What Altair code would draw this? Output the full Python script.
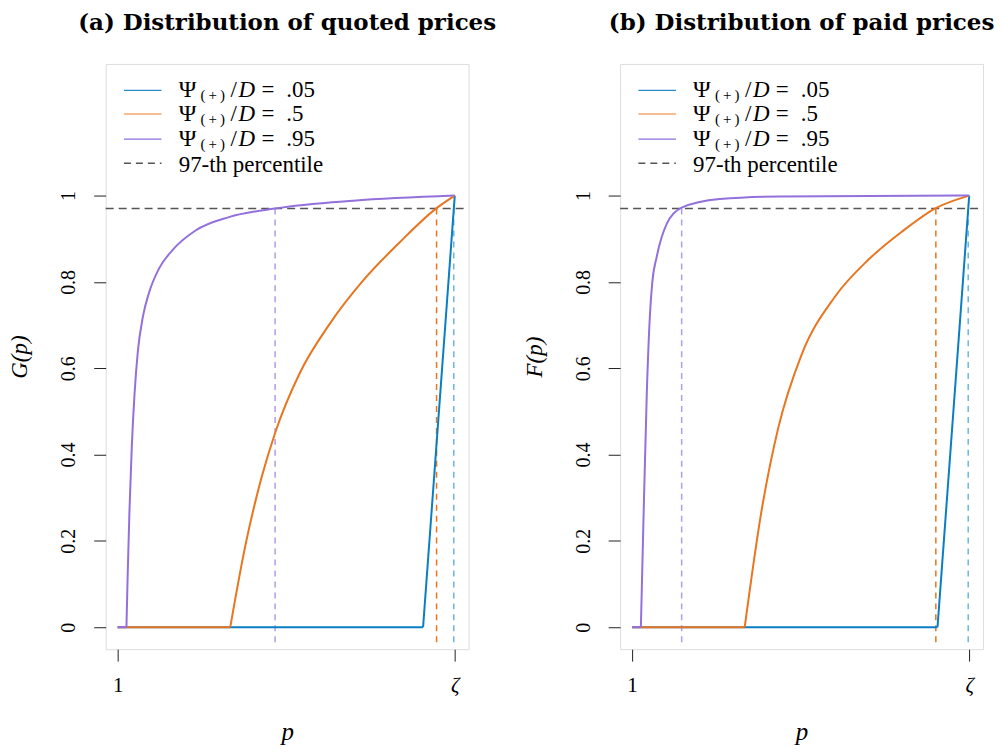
import altair as alt
import pandas as pd

FONT = "Liberation Serif"
TFONT = "DejaVu Serif"
ZETA = 2.0
PCT = 0.97

# ---- panel (a): quoted prices G(p) ----
a_purple_p = [1.0, 1.026, 1.030, 1.035, 1.042, 1.050, 1.060, 1.075, 1.093, 1.122, 1.162, 1.231, 1.330, 1.467, 1.699, 2.0]
a_purple_g = [0.0, 0.0, 0.13, 0.27, 0.42, 0.54, 0.64, 0.72, 0.775, 0.83, 0.873, 0.919, 0.950, 0.970, 0.988, 1.0]
a_orange_p = [1.0, 1.334, 1.379, 1.428, 1.467, 1.541, 1.630, 1.729, 1.837, 1.946, 2.0]
a_orange_g = [0.0, 0.0, 0.19, 0.35, 0.45, 0.59, 0.704, 0.804, 0.892, 0.971, 1.0]
a_blue_p = [1.0, 1.906, 2.0]
a_blue_g = [0.0, 0.0, 1.0]
a_quant = [1.997, 1.946, 1.467]   # blue, orange, purple 97-th percentiles

# ---- panel (b): paid prices F(p) ----
b_purple_p = [1.0, 1.026, 1.0335, 1.0435, 1.053, 1.060, 1.073, 1.103, 1.147, 1.260, 1.438, 2.0]
b_purple_g = [0.0, 0.0, 0.242, 0.54, 0.725, 0.80, 0.858, 0.935, 0.972, 0.992, 0.998, 1.0]
b_orange_p = [1.0, 1.334, 1.384, 1.433, 1.502, 1.601, 1.699, 1.798, 1.901, 2.0]
b_orange_g = [0.0, 0.0, 0.27, 0.46, 0.63, 0.765, 0.850, 0.915, 0.971, 1.0]
b_blue_p = [1.0, 1.906, 2.0]
b_blue_g = [0.0, 0.0, 1.0]
b_quant = [1.997, 1.901, 1.147]

series_values = [".05", ".5", ".95"]
curve_colors = ["#0A7EC2", "#E8751F", "#9370DB"]
dash_colors = ["#6DB6DF", "#E8751F", "#B29BEA"]
legend_colors = ["#2A8AD0", "#F4A76E", "#8E6EE0"]
legend_rows_y = [1.244, 1.189, 1.131, 1.075]
pct_label = "97-th percentile"

X_DOM = [0.9645, 2.041]
Y_DOM = [-0.051, 1.305]
Y_TICKS = [0, 0.2, 0.4, 0.6, 0.8, 1]

xs = alt.Scale(domain=X_DOM, nice=False, zero=False)
ys = alt.Scale(domain=Y_DOM, nice=False, zero=False)


def make_panel(curves, quants, title, ytitle):
    xax = alt.Axis(values=[1, ZETA], labelExpr="datum.value == 1 ? '1' : 'ζ'",
                   labelFontStyle={"condition": {"test": "datum.value != 1", "value": "italic"}, "value": "normal"},
                   title="p", titleFontStyle="italic", titleFontSize=25, titleFont=FONT,
                   titleFontWeight="normal", titlePadding=25, titleColor="black",
                   labelFont=FONT, labelFontSize=21, labelColor="black", labelPadding=13,
                   tickSize=12, tickColor="#222", domain=False, grid=False)
    yax = alt.Axis(values=Y_TICKS, format="~g", title=ytitle, titleFontStyle="italic",
                   titleFontSize=23, titleFont=FONT, titleFontWeight="normal", titlePadding=27,
                   titleColor="black", labelAngle=270, labelAlign="center", labelBaseline="bottom",
                   labelFont=FONT, labelFontSize=20, labelColor="black", labelPadding=15,
                   tickSize=12, tickColor="#222", domain=False, grid=False)

    def X(f):
        return alt.X(f, type="quantitative", scale=xs, axis=xax)

    def Y(f):
        return alt.Y(f, type="quantitative", scale=ys, axis=yax)

    layers = []
    # horizontal percentile line
    hdf = pd.DataFrame({"x": [X_DOM[0]], "x2": [X_DOM[1]], "y": [PCT]})
    layers.append(alt.Chart(hdf).mark_rule(color="#555555", strokeDash=[8, 5], strokeWidth=1.5)
                  .encode(x=X("x"), x2="x2", y=Y("y")))
    # vertical quantile lines
    vdf = pd.DataFrame({"x": quants, "y": [-0.035] * 3, "y2": [PCT] * 3, "c": dash_colors})
    layers.append(alt.Chart(vdf).mark_rule(strokeDash=[6, 5], strokeWidth=1.5)
                  .encode(x=X("x"), y=Y("y"), y2="y2", color=alt.Color("c:N", scale=None)))
    # curves: blue, orange, purple (purple on top); flat part linear, rising part smooth
    for (pp, gg), col in zip(curves, curve_colors):
        fdf = pd.DataFrame({"p": pp[:2], "g": gg[:2]})
        rdf = pd.DataFrame({"p": pp[1:], "g": gg[1:], "i": list(range(len(pp) - 1))})
        layers.append(alt.Chart(fdf).mark_line(color=col, strokeWidth=2)
                      .encode(x=X("p"), y=Y("g")))
        layers.append(alt.Chart(rdf).mark_line(color=col, strokeWidth=2, interpolate="monotone")
                      .encode(x=X("p"), y=Y("g"), order="i:Q"))
    # legend
    ldf = pd.DataFrame({"x": [1.0186] * 3, "x2": [1.130] * 3, "y": legend_rows_y[:3],
                        "c": legend_colors, "v": series_values, "tx": [1.181] * 3})
    layers.append(alt.Chart(ldf).mark_rule(strokeWidth=1.3)
                  .encode(x=X("x"), x2="x2", y=Y("y"), color=alt.Color("c:N", scale=None)))
    ddf = pd.DataFrame({"x": [1.0186], "x2": [1.130], "y": [legend_rows_y[3]], "t": [pct_label], "tx": [1.181]})
    layers.append(alt.Chart(ddf).mark_rule(strokeWidth=1.5, color="#555555", strokeDash=[7, 5])
                  .encode(x=X("x"), x2="x2", y=Y("y")))
    base_txt = dict(font=FONT, align="left", baseline="middle", color="black")
    layers.append(alt.Chart(ldf).mark_text(text="Ψ", fontSize=24, **base_txt)
                  .encode(x=X("tx"), y=Y("y")))
    layers.append(alt.Chart(ldf).mark_text(text="(\u2009+\u2009)", fontSize=15, dx=22, dy=5, **base_txt)
                  .encode(x=X("tx"), y=Y("y")))
    layers.append(alt.Chart(ldf).mark_text(text="/", fontSize=23, dx=52, **base_txt)
                  .encode(x=X("tx"), y=Y("y")))
    layers.append(alt.Chart(ldf).mark_text(text="D", fontSize=23, fontStyle="italic", dx=60, **base_txt)
                  .encode(x=X("tx"), y=Y("y")))
    layers.append(alt.Chart(ldf).mark_text(text="=", fontSize=23, dx=83, **base_txt)
                  .encode(x=X("tx"), y=Y("y")))
    layers.append(alt.Chart(ldf).mark_text(fontSize=23, dx=108, **base_txt)
                  .encode(x=X("tx"), y=Y("y"), text="v:N"))
    layers.append(alt.Chart(ddf).mark_text(fontSize=23, dy=2, **base_txt)
                  .encode(x=X("tx"), y=Y("y"), text="t:N"))

    return alt.layer(*layers).properties(
        width=364, height=587,
        title=alt.Title(title, font=TFONT, fontSize=23, fontWeight="bold", color="black",
                        anchor="middle", offset=29))


panel_a = make_panel([(a_blue_p, a_blue_g), (a_orange_p, a_orange_g), (a_purple_p, a_purple_g)],
                     a_quant, "(a) Distribution of quoted prices", "G(p)")
panel_b = make_panel([(b_blue_p, b_blue_g), (b_orange_p, b_orange_g), (b_purple_p, b_purple_g)],
                     b_quant, "(b) Distribution of paid prices", "F(p)")

chart = alt.hconcat(panel_a, panel_b, spacing=152, bounds="flush").properties(
    padding={"left": 0, "top": 2, "right": 0, "bottom": 0}
).configure_view(stroke="black", strokeWidth=1.2).configure(background="white")

chart.save("out.html", embed_options={"renderer": "svg", "actions": False})
